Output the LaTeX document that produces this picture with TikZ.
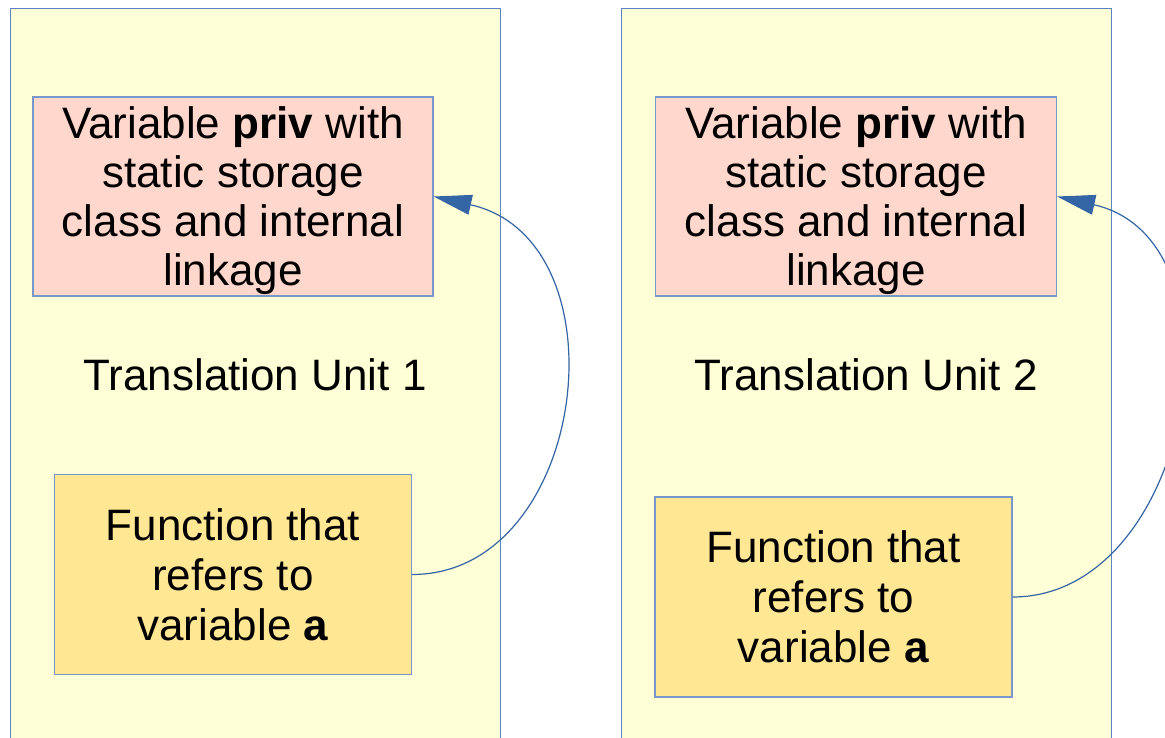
\documentclass[tikz,border=0pt]{standalone}
\usepackage{fontspec}
\setmainfont{Liberation Sans}
\usetikzlibrary{arrows.meta}
\definecolor{panelfill}{HTML}{FFFFD7}
\definecolor{panelline}{HTML}{5B84C4}
\definecolor{pinkfill}{HTML}{FFD7CC}
\definecolor{goldfill}{HTML}{FFE794}
\definecolor{boxline}{HTML}{7898CC}
\definecolor{arrowblue}{HTML}{3465A4}
\tikzset{
  panel/.style={draw=panelline, fill=panelfill, line width=1.2pt, rectangle, inner sep=0pt, anchor=north west},
  varbox/.style={draw=boxline, fill=pinkfill, line width=1.2pt, rectangle, inner sep=0pt, align=center,
    font=\fontsize{44}{49}\selectfont, minimum width=400pt, minimum height=199pt},
  funcbox/.style={draw=boxline, fill=goldfill, line width=1.2pt, rectangle, inner sep=0pt, align=center,
    font=\fontsize{44}{50}\selectfont, minimum width=357pt, minimum height=200pt},
  tulabel/.style={font=\fontsize{44}{49}\selectfont, inner sep=0pt},
  conn/.style={draw=arrowblue, line width=1.2pt, -{Triangle[length=38pt,width=20pt]}}
}
\begin{document}
\begin{tikzpicture}[x=1pt,y=-1pt]
\useasboundingbox (0,0) rectangle (1165,738);
\clip (0,0) rectangle (1165,738);
\fill[white] (0,0) rectangle (1165,738);
% panels
\node[panel, minimum width=490pt, minimum height=770pt] (tu1) at (10,8) {};
\node[panel, minimum width=490pt, minimum height=770pt] (tu2) at (621,8) {};
% labels
\node[tulabel] (lab1) at (255,375) {Translation Unit 1};
\node[tulabel] (lab2) at (866,375) {Translation Unit 2};
% variable boxes
\node[varbox] (v1) at (233,196.5) {\rule{0pt}{40pt}Variable \textbf{priv} with\\static storage\\class and internal\\linkage};
\node[varbox, minimum width=401pt] (v2) at (856,196.5) {\rule{0pt}{40pt}Variable \textbf{priv} with\\static storage\\class and internal\\linkage};
% function boxes
\node[funcbox] (f1) at (233,574.5) {Function that\\refers to\\variable \textbf{a}};
\node[funcbox] (f2) at (833.5,597) {Function that\\refers to\\variable \textbf{a}};
% connectors
\draw[conn] (f1.east) .. controls (588,574.5) and (628,240) .. (v1.east);
\draw[conn] (f2.east) .. controls (1193,597) and (1251,240) .. (v2.east);
\end{tikzpicture}
\end{document}
